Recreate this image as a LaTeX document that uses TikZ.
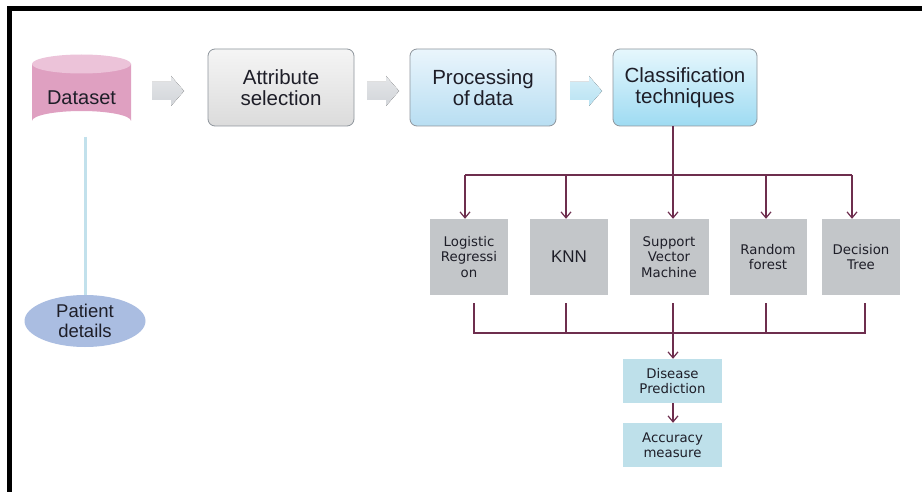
\documentclass[tikz,border=0pt]{standalone}
\usepackage{fontspec}
\setmainfont{Liberation Sans}
\newfontfamily\dejavu{DejaVu Sans}
\usetikzlibrary{arrows.meta,shapes.geometric,calc}
\definecolor{txt}{HTML}{1E1E28}
\definecolor{conn}{HTML}{6E2E4E}
\definecolor{boxline}{HTML}{8E959C}
\definecolor{algfill}{HTML}{C3C6C9}
\definecolor{predfill}{HTML}{BEE0EA}
\definecolor{pinkbody}{HTML}{DFA0C1}
\definecolor{pinktop}{HTML}{ECC3D9}
\definecolor{patfill}{HTML}{AABDE1}
\definecolor{linkblue}{HTML}{C2E1EC}
\tikzset{
  topbox/.style={rounded corners=7pt, draw=boxline, line width=0.8pt, minimum width=146pt,
    minimum height=77pt, align=center, text=txt, inner sep=0pt,
    font=\fontsize{20.5}{21.5}\selectfont},
  algbox/.style={fill=algfill, minimum width=78pt, minimum height=76pt, align=center,
    text=txt, inner sep=0pt, font=\dejavu\fontsize{13.3}{15.5}\selectfont},
  predbox/.style={fill=predfill, minimum width=99pt, minimum height=44pt, align=center,
    text=txt, inner sep=0pt, font=\dejavu\fontsize{13.3}{15.5}\selectfont},
  connline/.style={draw=conn, line width=1.2pt},
  connarrow/.style={connline, -{Straight Barb[length=6pt,width=10pt]}},
  blockarrow/.style={top color=#1!60!white, bottom color=#1, draw=none},
}
\begin{document}
\begin{tikzpicture}[x=1pt,y=-1pt]
\useasboundingbox (0,0) rectangle (922,492);
\fill[white] (0,0) rectangle (922,492);
% frame
\fill[black] (7,6) rectangle (922,11);
\fill[black] (7,6) rectangle (12,492);

% dataset cylinder
\fill[pinkbody] (32,64) -- (32,121) arc[start angle=180,end angle=360,x radius=49.5,y radius=10] -- (131,64) -- cycle;
\fill[pinktop] (81.5,64) ellipse[x radius=49.5,y radius=9.5];
\node[text=txt, font=\fontsize{20}{22}\selectfont] (ds) at (81.5,98) {Dataset};
\coordinate (dsbot) at (85,137);

% patient details
\node[ellipse, fill=patfill, minimum width=121pt, minimum height=52pt, inner sep=0pt,
  align=center, text=txt, font=\fontsize{18.5}{20}\selectfont] (pt) at (85,321) {Patient\\details};
\draw[linkblue, line width=3pt] (dsbot) -- (pt.north);

% block arrows
\foreach \x/\c in {152/D2D5D9, 367/D2D5D9, 570/B8E3F3}{
  \definecolor{tmpc}{HTML}{\c}
  \fill[blockarrow=tmpc] (\x,82) -- (\x+19,82) -- (\x+19,76) -- (\x+32,91) -- (\x+19,106) -- (\x+19,100) -- (\x,100) -- cycle;
}

% top boxes
\node[topbox, top color=white!92!gray, bottom color=gray!28!white] (attr) at (281,87.5) {Attribute\\selection};
\node[topbox, top color={rgb,255:red,234;green,245;blue,252}, bottom color={rgb,255:red,184;green,222;blue,242}] (proc) at (483,87.5) {Processing\\of\,data};
\node[topbox, minimum width=144pt, top color={rgb,255:red,230;green,247;blue,253}, bottom color={rgb,255:red,158;green,219;blue,242}] (cls) at (685,87.5) {Classification\\techniques};

% algorithm boxes
\node[algbox] (lr) at (469,257) {Logistic\\Regressi\\on};
\node[algbox, font=\fontsize{17}{19}\selectfont] (knn) at (569,257) {KNN};
\node[algbox, minimum width=79pt] (svm) at (669,257) {Support\\Vector\\Machine};
\node[algbox, minimum width=77pt] (rf) at (768,257) {Random\\forest};
\node[algbox] (dt) at (861,257) {Decision\\Tree};

% top distribution
\coordinate (split) at (673,175);
\coordinate (t1) at (465,175);
\coordinate (t2) at (566,175);
\coordinate (t4) at (766,175);
\coordinate (t5) at (852,175);
\draw[connline] (split |- cls.south) -- (split);
\draw[connline] (t1) -- (t5);
\draw[connarrow] (t1) -- (t1 |- lr.north);
\draw[connarrow] (t2) -- (t2 |- knn.north);
\draw[connarrow] (split) -- (split |- svm.north);
\draw[connarrow] (t4) -- (t4 |- rf.north);
\draw[connarrow] (t5) -- (t5 |- dt.north);

% bottom collection
\coordinate (b1) at (474,333);
\coordinate (b2) at (566,333);
\coordinate (b3) at (673,333);
\coordinate (b4) at (766,333);
\coordinate (b5) at (865,333);
\draw[connline] ($(b1 |- lr.south)+(0,8)$) -- (b1) -- (b5) -- ($(b5 |- dt.south)+(0,8)$);
\draw[connline] ($(b2 |- knn.south)+(0,8)$) -- (b2);
\draw[connline] ($(b3 |- svm.south)+(0,8)$) -- (b3);
\draw[connline] ($(b4 |- rf.south)+(0,8)$) -- (b4);

% prediction
\node[predbox] (dp) at (672.5,381) {Disease\\Prediction};
\node[predbox] (am) at (672.5,445) {Accuracy\\measure};
\draw[connarrow] (b3) -- (b3 |- dp.north);
\draw[connarrow] (dp.south -| b3) -- (b3 |- am.north);
\end{tikzpicture}
\end{document}
